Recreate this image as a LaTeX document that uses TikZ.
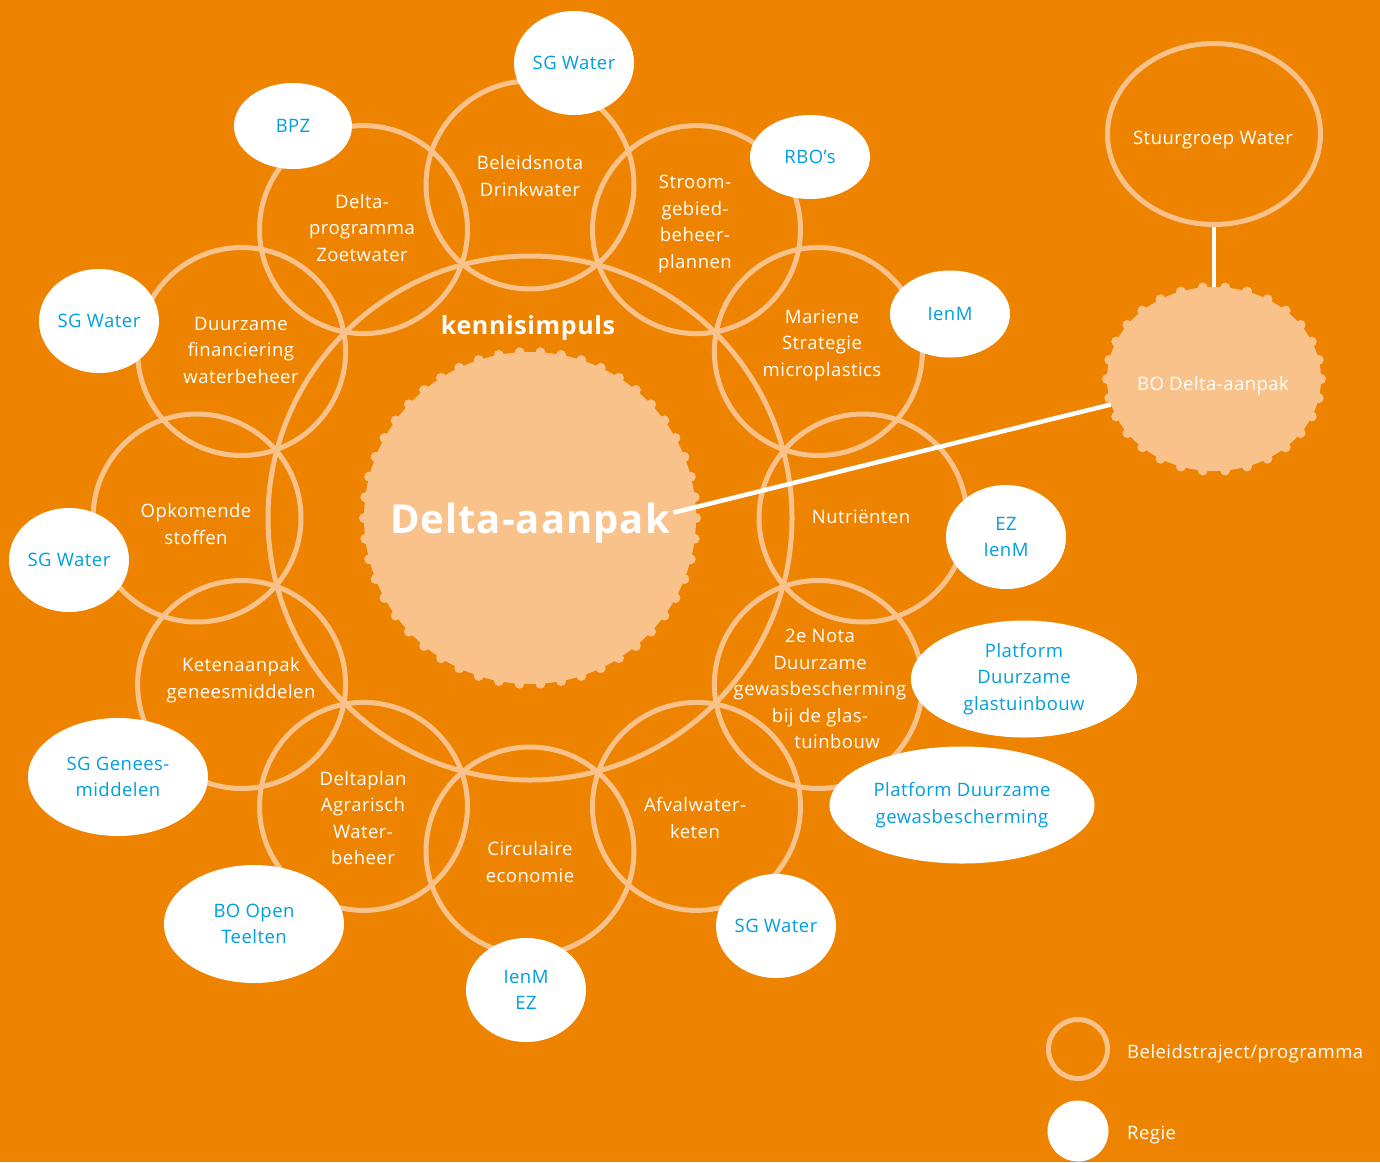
\documentclass[tikz,border=0pt]{standalone}
\usepackage{fontspec}
\setmainfont{Open Sans}[LetterSpace=2.5]
\usetikzlibrary{shapes.geometric}

\definecolor{deltaorange}{RGB}{238,131,0}
\definecolor{deltalight}{RGB}{248,194,138}
\definecolor{deltablue}{RGB}{0,159,223}

\newcommand\diagfont{\fontsize{18.5}{26.5}\selectfont}

\tikzset{
    ring/.style={draw=deltalight, line width=5pt},
    prog/.style={text=white, align=center, font=\diagfont, inner sep=0pt},
    regie/.style={ellipse, fill=white, text=deltablue, align=center, font=\diagfont,
        inner sep=0pt, minimum width=120pt, minimum height=104pt},
    link/.style={draw=white, line width=4.5pt},
}

\begin{document}
\begin{tikzpicture}[x=1pt, y=-1pt]

    % Centre of the ring of programmes
    \def\xc{530}
    \def\yc{518}
    \def\R{333}     % distance centre -> small ring
    \def\r{104}     % radius small ring
    \def\rk{262}    % radius kennisimpuls ring
    \def\rd{166}    % radius Delta-aanpak disc
    \def\xb{1214}   % x BO Delta-aanpak
    \def\yb{379}    % y BO Delta-aanpak

    \fill[deltaorange] (0,0) rectangle (1380,1162);
    \useasboundingbox (0,0) rectangle (1380,1162);

    % Rings
    \foreach \a in {0,30,...,330}{
        \draw[ring] ({\xc+\R*cos(\a)}, {\yc+\R*sin(\a)}) circle (\r);
    }
    \draw[ring] (\xc,\yc) circle (\rk);

    % Delta-aanpak disc with beads
    \fill[deltalight] (\xc,\yc) circle (\rd);
    \foreach \i in {1,...,50}{
        \fill[deltalight] ({\xc+\rd*cos(7.2*\i)}, {\yc+\rd*sin(7.2*\i)}) circle (5);
    }

    % Regie
    \node[regie] (sgtop) at (574,63) {SG Water};
    \node[regie, minimum width=118pt, minimum height=86pt] (bpz) at (293,126) {BPZ};
    \node[regie, minimum height=84pt] (rbo) at (810,157) {RBO’s};
    \node[regie, minimum height=87pt] (ienm) at (950,314) {IenM};
    \node[regie] (sgleft) at (99,321) {SG Water};
    \node[regie] (sgleftb) at (69,560) {SG Water};
    \node[regie] (ezienm) at (1006,537) {EZ\\IenM};
    \node[regie, minimum width=226pt, minimum height=117pt] (glas) at (1024,679) {Platform\\Duurzame\\glastuinbouw};
    \node[regie, minimum width=265pt, minimum height=117pt] (gewas) at (962,805) {Platform Duurzame\\gewasbescherming};
    \node[regie, minimum width=180pt, minimum height=118pt] (sggenees) at (118,777) {SG Genees-\\middelen};
    \node[regie, minimum width=180pt, minimum height=118pt] (boopen) at (254,924) {BO Open\\Teelten};
    \node[regie] (sgbottom) at (776,926) {SG Water};
    \node[regie] (ienmez) at (526,990) {IenM\\EZ};

    % Programmes
    \node[prog] (drinkwater) at (530,176) {Beleidsnota\\Drinkwater};
    \node[prog] (stroomgebied) at (695,224) {Stroom-\\gebied-\\beheer-\\plannen};
    \node[prog] (mariene) at (822,345) {Mariene\\Strategie\\microplastics};
    \node[prog] (nutrienten) at (861,517) {Nutriënten};
    \node[prog] (nota) at (820,689) {2e Nota\\Duurzame\\gewasbescherming\\bij de glas-\\\hspace*{34pt}tuinbouw};
    \node[prog] (afvalwater) at (695,818) {Afvalwater-\\keten};
    \node[prog] (circulair) at (530,862) {Circulaire\\economie};
    \node[prog] (deltaplan) at (363,818) {Deltaplan\\Agrarisch\\Water-\\beheer};
    \node[prog] (keten) at (241,680) {Ketenaanpak\\geneesmiddelen};
    \node[prog] (opkomend) at (196,524) {Opkomende\\stoffen};
    \node[prog] (financiering) at (241,350) {Duurzame\\financiering\\waterbeheer};
    \node[prog] (zoetwater) at (362,228) {Delta-\\programma\\Zoetwater};

    \node[text=white, font=\bfseries\fontsize{25}{30}\selectfont] (kennis) at (528,328) {kennisimpuls};
    \node[text=white, font=\bfseries\fontsize{40}{48}\selectfont, anchor=base] (delta) at (530,533) {Delta-aanpak};

    % Stuurgroep and BO Delta-aanpak
    \node[ellipse, draw=deltalight, line width=5pt, minimum width=213pt, minimum height=181pt] (stuurgroep) at (1214,134) {};
    \node[prog] (stuurgroeptext) at (1213,140) {Stuurgroep Water};
    \node[ellipse, fill=deltalight, minimum width=214pt, minimum height=184pt] (bo) at (\xb,\yb) {};
    \node[prog] (botext) at (1213,386) {BO Delta-aanpak};
    \draw[link] (stuurgroep) -- (bo);
    \draw[link] ([yshift=10pt]delta.east) -- (bo);
    \foreach \t in {0,12,...,348}{
        \fill[deltalight] ({\xb+107*cos(\t)}, {\yb+92*sin(\t)}) circle (5);
    }

    % Legend
    \node[circle, draw=deltalight, line width=5pt, minimum size=59pt, inner sep=0pt] (legring) at (1078,1049) {};
    \node[prog, anchor=west] (legringtext) at (1127,1054) {Beleidstraject/programma};
    \node[circle, fill=white, minimum size=61pt, inner sep=0pt] (legregie) at (1078,1131) {};
    \node[prog, anchor=west] (legregietext) at (1127,1135) {Regie};

\end{tikzpicture}
\end{document}
